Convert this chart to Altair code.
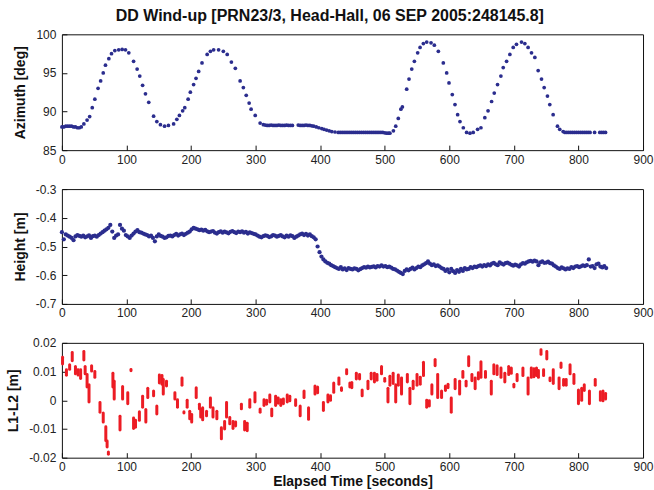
import altair as alt
import pandas as pd

TITLE = "DD Wind-up [PRN23/3, Head-Hall, 06 SEP 2005:248145.8]"
X_TITLE = "Elapsed Time [seconds]"
Y_TITLES = ["Azimuth [deg]", "Height [m]", "L1-L2 [m]"]
X_TICKS = [0, 100, 200, 300, 400, 500, 600, 700, 800, 900]
AZ_TICKS = [85, 90, 95, 100]
H_TICKS = [-0.7, -0.6, -0.5, -0.4, -0.3]
L_TICKS = [-0.02, -0.01, 0, 0.01, 0.02]

# ---- panel 1: azimuth ----
az_t = [0, 3, 6, 9, 12, 15, 18, 21, 24, 27, 30,
        34, 39, 43, 47, 51, 56, 60, 64, 67.5, 72.7, 76.8, 82, 88, 93.3, 98.5,
        103.6, 111, 116.5, 120.6, 125, 129.4, 134.5, 142, 147, 152.6, 159, 165,
        173, 178, 182, 187, 190.3, 195.5, 198.9, 204, 207.7, 211.8, 217, 225,
        230, 235, 242.7, 250, 256, 262.5, 268.6, 276, 281, 285.5, 290, 293,
        299.4, 307, 312,
        315, 318, 321, 324, 327, 330, 333, 336, 339, 342, 345, 348, 351, 354,
        357, 366, 369, 372, 375, 378, 381, 384, 387, 390,
        394, 398, 402.5, 406, 410, 414, 418, 423, 428,
        431, 434, 437, 440, 443, 446, 449, 452, 455, 458, 461, 464, 467, 470,
        473, 476, 479, 482, 485, 488, 491, 494, 497, 500, 503, 506,
        508, 513.4, 517, 521, 525, 527.3, 534, 537.6, 541.8, 545.9, 551, 554.7,
        559.8, 565, 571.7, 576.8, 583, 590.7, 595.9, 599.5, 604.6, 608.8, 612.9,
        616.5, 621.7, 626.8, 632, 637, 643.8, 649, 655, 660, 665.5, 669.6,
        674.7, 679.9, 683.5, 688.7, 693.8, 699, 704, 711.8, 717, 722, 727.3,
        732.5, 737.6, 742.8, 746.9, 752, 755.6, 760.8, 767.5, 771, 776.3,
        779, 782, 785, 788, 791, 794, 797, 800, 803, 806, 809, 812, 815, 818,
        825, 833, 836, 839, 842]
az_v = [88.0, 88.0, 88.1, 88.1, 88.1, 88.1, 88.0, 88.0, 87.9, 87.9, 88.0,
        88.4, 88.9, 89.35, 90.5, 91.6, 93.0, 93.96, 95.0, 96.0, 96.85, 97.5, 97.9,
        98.0, 98.05, 98.0, 97.6, 96.5, 95.5, 94.6, 93.4, 92.3, 91.2, 89.4, 88.7,
        88.3, 88.1, 88.2, 88.4, 89.0, 89.5, 90.1, 90.5, 91.6, 92.5, 93.5, 94.3,
        95.2, 96.3, 97.4, 97.8, 98.0, 98.0, 97.8, 97.4, 96.4, 95.6, 93.96, 93.1,
        92.1, 91.1, 90.3, 89.5, 88.5, 88.3,
        88.25, 88.2, 88.2, 88.25, 88.2, 88.2, 88.2, 88.25, 88.2, 88.2, 88.2,
        88.25, 88.2, 88.2, 88.2, 88.25, 88.2, 88.2, 88.2, 88.25, 88.2, 88.2,
        88.15, 88.1,
        88.0, 87.9, 87.8, 87.7, 87.6, 87.5, 87.4, 87.35, 87.3,
        87.3, 87.3, 87.3, 87.3, 87.3, 87.3, 87.3, 87.3, 87.3, 87.3, 87.3, 87.3,
        87.3, 87.3, 87.3, 87.3, 87.3, 87.3, 87.3, 87.3, 87.3, 87.3, 87.3, 87.25,
        87.2, 87.2,
        87.2, 87.5, 88.1, 89.1, 90.3, 90.6, 92.9, 94.2, 95.5, 96.5, 97.6, 98.3,
        98.8, 99.0, 98.9, 98.6, 97.8, 96.3, 95.0, 93.7, 92.2, 90.9, 89.6, 88.7,
        87.9, 87.3, 87.2, 87.3, 87.7, 87.9, 89.2, 90.1, 91.3, 92.4, 93.5, 94.6,
        95.7, 96.5, 97.4, 98.3, 98.7, 99.0, 98.8, 98.3, 97.6, 97.0, 95.3, 94.2,
        93.1, 92.0, 90.9, 89.6, 88.1, 87.7, 87.4,
        87.3, 87.3, 87.3, 87.3, 87.3, 87.3, 87.3, 87.3, 87.3, 87.3, 87.3, 87.3,
        87.3, 87.3, 87.3, 87.3, 87.3, 87.3, 87.3]

# ---- panel 2: height, sampled every 3 s from 0 s ----
H_STEP = 3
h_v = [
    -0.450, -0.475, -0.458, -0.462, -0.466, -0.470, -0.478, -0.465, -0.460, -0.463,
    -0.466, -0.462, -0.468, -0.465, -0.461, -0.470, -0.464, -0.462, -0.466, -0.460,
    -0.455, -0.450, -0.445, -0.440, -0.435, -0.425, -0.448, -0.470, -0.462, -0.458,
    -0.425, -0.438, -0.445, -0.460, -0.465, -0.470, -0.462, -0.455, -0.448, -0.443,
    -0.450, -0.452, -0.455, -0.458, -0.460, -0.465, -0.462, -0.470, -0.482, -0.465,
    -0.458, -0.463, -0.466, -0.470, -0.468, -0.463, -0.462, -0.465, -0.460, -0.456,
    -0.462, -0.458, -0.455, -0.460, -0.456, -0.452, -0.448, -0.440, -0.435, -0.438,
    -0.440, -0.443, -0.441, -0.445, -0.442, -0.447, -0.450, -0.448, -0.446, -0.452,
    -0.455, -0.450, -0.447, -0.452, -0.448, -0.451, -0.454, -0.449, -0.446, -0.450,
    -0.453, -0.448, -0.450, -0.447, -0.452, -0.449, -0.455, -0.451, -0.453, -0.456,
    -0.458, -0.462, -0.466, -0.468, -0.464, -0.461, -0.463, -0.467, -0.465, -0.460,
    -0.462, -0.466, -0.463, -0.460, -0.465, -0.468, -0.462, -0.466, -0.461, -0.464,
    -0.470, -0.466, -0.462, -0.458, -0.455, -0.460, -0.456, -0.462, -0.458, -0.464,
    -0.468, -0.475, -0.500, -0.520, -0.535, -0.545, -0.552, -0.557, -0.560, -0.565,
    -0.568, -0.572, -0.575, -0.578, -0.572, -0.580, -0.576, -0.582, -0.575, -0.578,
    -0.580, -0.576, -0.578, -0.583, -0.579, -0.575, -0.572, -0.574, -0.570, -0.573,
    -0.571, -0.569, -0.573, -0.568, -0.570, -0.566, -0.570, -0.568, -0.572, -0.570,
    -0.574, -0.578, -0.580, -0.584, -0.588, -0.592, -0.596, -0.585, -0.580, -0.583,
    -0.578, -0.574, -0.580, -0.575, -0.570, -0.572, -0.566, -0.562, -0.558, -0.552,
    -0.560, -0.565, -0.562, -0.568, -0.566, -0.570, -0.575, -0.578, -0.585, -0.580,
    -0.590, -0.578, -0.586, -0.592, -0.582, -0.588, -0.578, -0.585, -0.575, -0.580,
    -0.578, -0.572, -0.575, -0.570, -0.572, -0.568, -0.566, -0.570, -0.565, -0.568,
    -0.562, -0.566, -0.560, -0.557, -0.562, -0.565, -0.555, -0.560, -0.563, -0.558,
    -0.556, -0.560, -0.564, -0.567, -0.563, -0.566, -0.570, -0.562, -0.558, -0.560,
    -0.555, -0.552, -0.550, -0.553, -0.549, -0.552, -0.565, -0.555, -0.552, -0.557,
    -0.556, -0.553, -0.558, -0.560, -0.566, -0.570, -0.575, -0.578, -0.573, -0.576,
    -0.580, -0.576, -0.578, -0.572, -0.575, -0.570, -0.568, -0.572, -0.569, -0.566,
    -0.568, -0.565, -0.545, -0.570, -0.568, -0.575, -0.562, -0.560, -0.570, -0.573,
    -0.568, -0.575]
h_t = [i * H_STEP for i in range(len(h_v))]

# ---- panel 3: L1-L2, vertical streaks of samples (time, lowest, highest) ----
l_t = [1, 7, 12, 16, 21, 25, 29, 34, 36, 39, 42, 46, 51, 59, 64, 68, 70, 72, 79, 81,
       90, 94, 102, 107, 111, 114, 120, 125, 130, 133, 142, 147, 151, 155, 157, 162,
       175, 179, 186, 189, 194, 198, 201, 208, 213, 215, 218, 224, 230, 234, 240,
       247, 252, 255, 260, 265, 269, 278, 283, 287, 291, 299, 307, 313, 317, 322,
       325, 331, 335, 339, 343, 349, 353, 362, 369, 375, 382, 392, 396, 405, 412,
       416, 421, 429, 433, 441, 446, 449, 456, 461, 465, 474, 479, 484, 488, 495,
       500, 505, 508, 513, 517, 521, 526, 535, 539, 544, 550, 555, 560, 565, 569,
       573, 578, 582, 588, 594, 598, 603, 609, 616, 621, 626, 630, 635, 640, 645,
       649, 656, 665, 669, 674, 680, 686, 692, 696, 700, 705, 714, 722, 727, 731,
       735, 738, 742, 746, 751, 756, 761, 770, 773, 777, 781, 787, 793, 800, 805,
       809, 817, 826, 834, 838, 842]
l_lo = [0.0126, 0.0087, 0.0108, 0.0138, 0.0092, 0.0088, 0.0076, 0.0140, 0.0092, 0.0046,
        -0.0006, 0.0102, 0.0080, -0.0042, -0.0076, -0.0140, -0.0163, -0.0188, 0.0046, 0.0004,
        -0.0104, 0.0004, -0.0012, 0.0103, -0.0098, -0.0094, -0.0070, -0.0024, -0.0076, 0.0010,
        0.0016, -0.0048, 0.0060, 0.0056, 0.0022, 0.0050, 0.0004, -0.0024, 0.0052, -0.0044,
        -0.0024, -0.0064, -0.0076, 0.0010, -0.0030, -0.0058, -0.0068, -0.0054, -0.0024, -0.0058,
        -0.0064, -0.0134, -0.0100, -0.0058, -0.0082, -0.0098, -0.0090, -0.0030, -0.0104, -0.0106,
        -0.0024, -0.0006, -0.0042, -0.0018, -0.0014, -0.0006, -0.0054, -0.0018, -0.0010, -0.0018,
        -0.0012, -0.0006, -0.0002, -0.0018, -0.0054, 0.0010, -0.0066, 0.0022, 0.0026, -0.0036,
        -0.0006, 0.0000, 0.0028, 0.0056, 0.0034, 0.0092, 0.0046, 0.0044, 0.0074, 0.0074,
        0.0016, 0.0040, 0.0074, 0.0064, 0.0070, 0.0092, 0.0066, -0.0006, 0.0052, 0.0058,
        -0.0006, 0.0052, 0.0022, 0.0064, -0.0012, 0.0040, 0.0052, 0.0056, 0.0086, -0.0024,
        -0.0020, 0.0022, 0.0120, 0.0010, 0.0010, 0.0034, 0.0044, -0.0042, 0.0040, 0.0022,
        0.0080, 0.0050, 0.0120, 0.0068, 0.0040, 0.0074, 0.0080, 0.0080, 0.0022, 0.0092,
        0.0090, 0.0080, 0.0064, 0.0090, 0.0094, 0.0046, 0.0068, 0.0086, 0.0022, 0.0080,
        0.0082, 0.0086, 0.0080, 0.0160, 0.0086, 0.0144, 0.0068, 0.0058, 0.0040, 0.0114,
        0.0052, 0.0052, 0.0092, 0.0058, -0.0012, 0.0000, 0.0034, -0.0012, 0.0052, 0.0000,
        -0.0002, 0.0004]
l_hi = [0.0150, 0.0106, 0.0124, 0.0166, 0.0118, 0.0106, 0.0106, 0.0170, 0.0118, 0.0090,
        0.0054, 0.0120, 0.0100, -0.0008, -0.0044, -0.0092, -0.0142, -0.0180, 0.0094, 0.0066,
        -0.0056, 0.0048, 0.0026, 0.0107, -0.0062, -0.0070, -0.0040, 0.0014, -0.0032, 0.0042,
        0.0032, -0.0020, 0.0088, 0.0086, 0.0072, 0.0066, 0.0026, 0.0002, 0.0078, -0.0040,
        0.0000, -0.0038, -0.0050, 0.0044, -0.0014, -0.0030, -0.0026, -0.0038, 0.0008, -0.0026,
        -0.0038, -0.0096, -0.0074, -0.0008, -0.0060, -0.0074, -0.0076, -0.0014, -0.0074, -0.0080,
        0.0002, 0.0026, -0.0030, 0.0002, 0.0000, 0.0018, -0.0030, 0.0014, 0.0008, 0.0002,
        0.0004, 0.0018, 0.0014, 0.0002, -0.0020, 0.0032, -0.0026, 0.0050, 0.0046, -0.0008,
        0.0018, 0.0016, 0.0060, 0.0078, 0.0044, 0.0106, 0.0060, 0.0062, 0.0094, 0.0090,
        0.0036, 0.0066, 0.0094, 0.0094, 0.0090, 0.0118, 0.0076, 0.0042, 0.0084, 0.0094,
        0.0054, 0.0088, 0.0078, 0.0090, 0.0042, 0.0066, 0.0090, 0.0080, 0.0132, 0.0000,
        -0.0002, 0.0054, 0.0142, 0.0090, 0.0032, 0.0050, 0.0056, 0.0008, 0.0072, 0.0066,
        0.0100, 0.0066, 0.0152, 0.0090, 0.0078, 0.0096, 0.0134, 0.0100, 0.0066, 0.0124,
        0.0120, 0.0112, 0.0094, 0.0118, 0.0112, 0.0056, 0.0090, 0.0112, 0.0078, 0.0112,
        0.0110, 0.0112, 0.0104, 0.0176, 0.0106, 0.0170, 0.0078, 0.0106, 0.0078, 0.0130,
        0.0072, 0.0072, 0.0124, 0.0090, 0.0036, 0.0042, 0.0054, 0.0032, 0.0072, 0.0030,
        0.0032, 0.0024]

BLUE = "#2b2d8e"
RED = "#ec1c24"
FONT = "Liberation Sans"
W = 582
HEIGHTS = [116, 115, 115]
TICK = 5

x_scale = alt.Scale(domain=[0, 900], nice=False, zero=False)

# axis pulled TICK px into the plot, ticks drawn outward from there -> inward ticks
AX = dict(tickSize=TICK, offset=-TICK, tickColor="#111", domain=False, grid=False,
          labelOverlap=False, labelFont=FONT, labelFontSize=12, labelColor="#222",
          titleFont=FONT, titleFontSize=14, titleFontWeight="bold", titleColor="#111")


def x_axis(title):
    kw = dict(values=X_TICKS, labelPadding=4, labelFlush=False, title=title, **AX)
    if title:
        kw["titlePadding"] = 2
    return alt.Axis(**kw)


def y_axis(title, ticks):
    return alt.Axis(title=title, values=ticks, labelPadding=6,
                    labelExpr="toString(datum.value)", titlePadding=8, **AX)


# panel 1
az_scale = alt.Scale(domain=[85, 100], nice=False, zero=False)
df_az = pd.DataFrame({"t": az_t, "az": az_v})
p1 = alt.Chart(df_az).mark_circle(color=BLUE, size=14, opacity=1).encode(
    x=alt.X("t:Q", scale=x_scale, axis=x_axis(None)),
    y=alt.Y("az:Q", scale=az_scale, axis=y_axis(Y_TITLES[0], AZ_TICKS)),
).properties(width=W, height=HEIGHTS[0])

# panel 2
h_scale = alt.Scale(domain=[-0.7, -0.3], nice=False, zero=False)
df_h = pd.DataFrame({"t": h_t, "h": h_v})
p2 = alt.Chart(df_h).mark_circle(color=BLUE, size=18, opacity=1).encode(
    x=alt.X("t:Q", scale=x_scale, axis=x_axis(None)),
    y=alt.Y("h:Q", scale=h_scale, axis=y_axis(Y_TITLES[1], H_TICKS)),
).properties(width=W, height=HEIGHTS[1])

# panel 3
l_scale = alt.Scale(domain=[-0.02, 0.02], nice=False, zero=False)
df_l = pd.DataFrame({"t": l_t, "lo": l_lo, "hi": l_hi})
p3 = alt.Chart(df_l).mark_rule(color=RED, strokeWidth=3, strokeCap="round").encode(
    x=alt.X("t:Q", scale=x_scale, axis=x_axis(X_TITLE)),
    y=alt.Y("lo:Q", scale=l_scale, axis=y_axis(Y_TITLES[2], L_TICKS)),
    y2="hi:Q",
).properties(width=W, height=HEIGHTS[2])

chart = alt.vconcat(p1, p2, p3, spacing=16).properties(
    title=alt.Title(TITLE, fontSize=16, fontWeight="bold", font=FONT, color="#111",
                    offset=4, anchor="middle"),
    padding={"left": 6, "top": 7, "right": 0, "bottom": 2},
    background="white",
).configure_view(
    stroke="#111", strokeWidth=1
)

chart.save("out.html", embed_options={"renderer": "svg", "actions": False})
